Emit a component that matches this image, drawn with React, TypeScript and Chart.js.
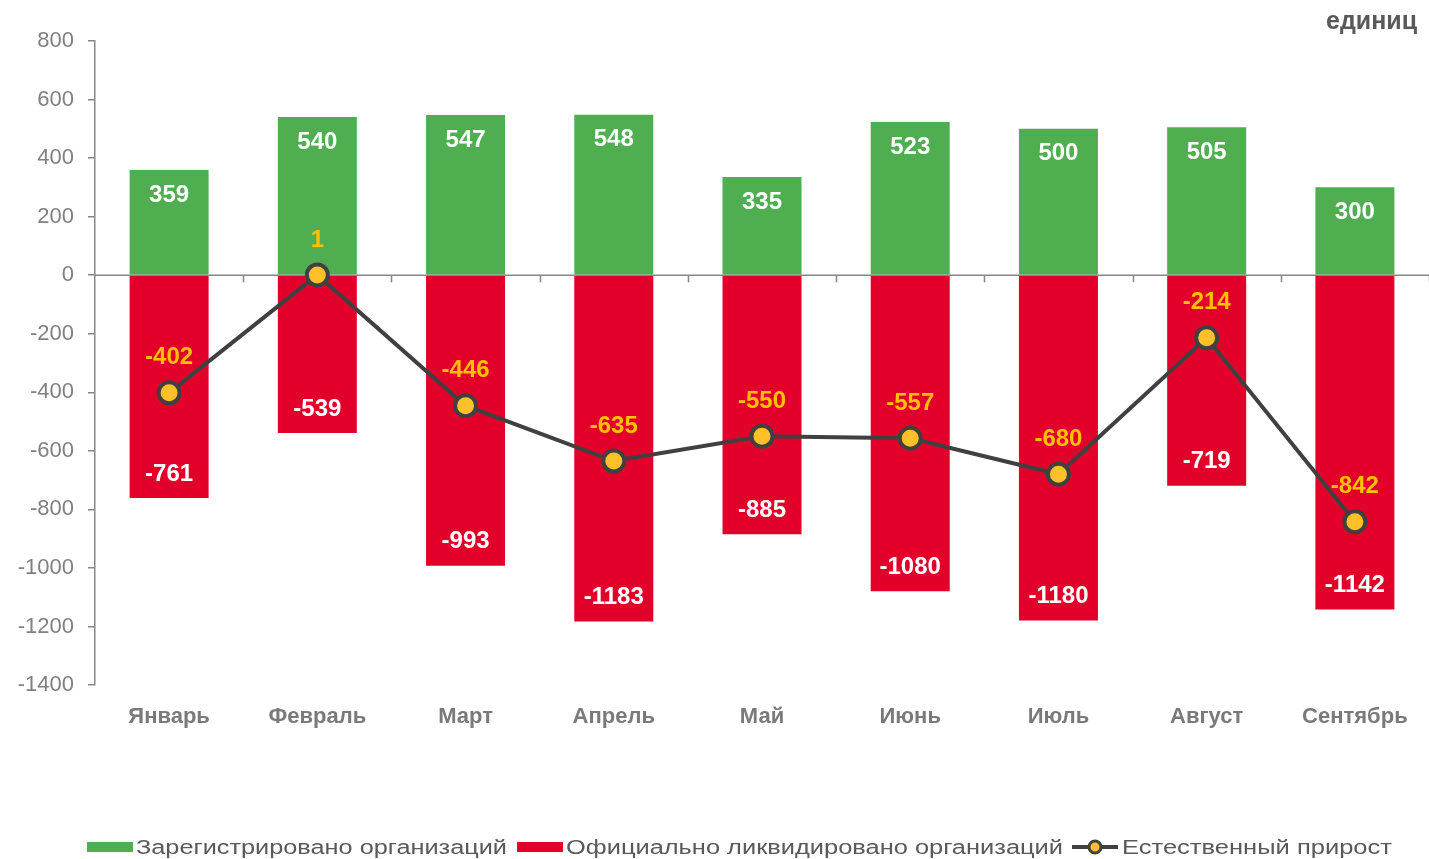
import React, { useEffect, useRef } from "react";
import { Chart, registerables } from "chart.js";

Chart.register(...registerables);

// ---- Data ----
const months = ["Январь", "Февраль", "Март", "Апрель", "Май", "Июнь", "Июль", "Август", "Сентябрь"];
const registered = [359, 540, 547, 548, 335, 523, 500, 505, 300];
const liquidated = [-761, -539, -993, -1183, -885, -1080, -1180, -719, -1142];
const naturalGrowth = [-402, 1, -446, -635, -550, -557, -680, -214, -842];
const seriesNames = ["Зарегистрировано организаций", "Официально ликвидировано организаций", "Естественный прирост"];
const unitLabel = "единиц";
const yMin = -1400;
const yMax = 800;
const yStep = 200;

// ---- Styles ----
const GREEN = "#4FAE50";
const RED = "#E2002A";
const LINE = "#404040";
const GOLD = "#FFC02A";
const ORANGE_TXT = "#FFC000";
const AXIS = "#868686";
const TICK_TXT = "#808080";
const CAT_TXT = "#7A7A7A";
const LEGEND_TXT = "#595959";
const FONT = '"Liberation Sans", Arial, sans-serif';

const overlayPlugin = {
  id: "overlay",
  beforeDatasetsDraw(chart: any) {
    const { ctx, chartArea, scales } = chart;
    const y0 = scales.y.getPixelForValue(0);
    ctx.save();
    ctx.strokeStyle = AXIS;
    ctx.lineWidth = 1.5;
    ctx.beginPath();
    ctx.moveTo(chartArea.left, y0);
    ctx.lineTo(chartArea.right, y0);
    const n = months.length;
    const step = (chartArea.right - chartArea.left) / n;
    for (let i = 1; i <= n; i++) {
      const px = Math.round(chartArea.left + step * i) + 0.5;
      ctx.moveTo(px, y0);
      ctx.lineTo(px, y0 + 7);
    }
    ctx.stroke();
    ctx.restore();
  },
  afterDatasetsDraw(chart: any) {
    const { ctx } = chart;
    ctx.save();
    ctx.textAlign = "center";
    ctx.textBaseline = "middle";
    ctx.font = `bold 24px ${FONT}`;
    ctx.fillStyle = "#FFFFFF";
    const m0 = chart.getDatasetMeta(0);
    m0.data.forEach((el: any, i: number) => {
      ctx.fillText(String(registered[i]), el.x, el.y + 25);
    });
    const m1 = chart.getDatasetMeta(1);
    m1.data.forEach((el: any, i: number) => {
      ctx.fillText(String(liquidated[i]), el.x, el.y - 24);
    });
    ctx.fillStyle = ORANGE_TXT;
    const m2 = chart.getDatasetMeta(2);
    m2.data.forEach((el: any, i: number) => {
      ctx.fillText(String(naturalGrowth[i]), el.x, el.y - 35);
    });
    ctx.restore();
  },
  afterDraw(chart: any) {
    const { ctx } = chart;
    ctx.save();
    // unit title
    ctx.font = `bold 25px ${FONT}`;
    ctx.fillStyle = LEGEND_TXT;
    ctx.textAlign = "right";
    ctx.textBaseline = "alphabetic";
    ctx.fillText(unitLabel, 1417, 29);

    // legend
    const ly = 847;
    const items = [
      { x0: 87, textX: 136, textW: 371, kind: "rect", color: GREEN },
      { x0: 517, textX: 566, textW: 497, kind: "rect", color: RED },
      { x0: 1072, textX: 1122, textW: 270, kind: "line", color: LINE },
    ];
    items.forEach((it, i) => {
      if (it.kind === "rect") {
        ctx.fillStyle = it.color;
        ctx.fillRect(it.x0, ly - 5, 46, 10);
      } else {
        ctx.strokeStyle = LINE;
        ctx.lineWidth = 4;
        ctx.beginPath();
        ctx.moveTo(it.x0, ly);
        ctx.lineTo(it.x0 + 46, ly);
        ctx.stroke();
        ctx.beginPath();
        ctx.arc(it.x0 + 23, ly, 6, 0, Math.PI * 2);
        ctx.fillStyle = GOLD;
        ctx.fill();
        ctx.lineWidth = 3;
        ctx.stroke();
      }
      ctx.font = `20px ${FONT}`;
      ctx.fillStyle = LEGEND_TXT;
      ctx.textAlign = "left";
      ctx.textBaseline = "middle";
      const w = ctx.measureText(seriesNames[i]).width;
      const sx = it.textW / w;
      ctx.save();
      ctx.translate(it.textX, ly);
      ctx.scale(sx, 1);
      ctx.fillText(seriesNames[i], 0, 1);
      ctx.restore();
    });
    ctx.restore();
  },
};

export default function App() {
  const canvasRef = useRef<HTMLCanvasElement | null>(null);

  useEffect(() => {
    document.body.style.margin = "0";
    const canvas = canvasRef.current;
    if (!canvas) return;
    const chart = new Chart(canvas, {
      type: "bar",
      data: {
        labels: months,
        datasets: [
          {
            type: "bar",
            label: seriesNames[0],
            data: registered,
            backgroundColor: GREEN,
            categoryPercentage: 1,
            barPercentage: 0.533,
            order: 2,
          },
          {
            type: "bar",
            label: seriesNames[1],
            data: liquidated,
            backgroundColor: RED,
            categoryPercentage: 1,
            barPercentage: 0.533,
            order: 1,
          },
          {
            type: "line",
            label: seriesNames[2],
            data: naturalGrowth,
            borderColor: LINE,
            borderWidth: 4,
            pointRadius: 10.5,
            pointBorderWidth: 4,
            pointBackgroundColor: GOLD,
            pointBorderColor: LINE,
            tension: 0,
            clip: false,
            order: 0,
          } as any,
        ],
      },
      options: {
        responsive: false,
        animation: false,
        devicePixelRatio: 1,
        layout: { autoPadding: false, padding: { top: 41, left: 0, right: -2, bottom: 0 } },
        plugins: {
          legend: { display: false },
          tooltip: { enabled: false },
          title: { display: false },
        },
        scales: {
          x: {
            stacked: true,
            grid: { display: false, drawTicks: false },
            border: { display: false },
            ticks: {
              color: CAT_TXT,
              font: { family: FONT, size: 22, weight: "bold" },
              padding: 19,
              maxRotation: 0,
              autoSkip: false,
            },
            afterFit: (scale: any) => {
              scale.height = 174;
              scale.paddingLeft = 0;
              scale.paddingRight = 0;
            },
          },
          y: {
            stacked: false,
            min: yMin,
            max: yMax,
            grid: {
              drawOnChartArea: false,
              drawTicks: true,
              tickLength: 7,
              color: AXIS,
              lineWidth: 1.5,
            },
            border: { display: true, color: AXIS, width: 1.5 },
            ticks: {
              stepSize: yStep,
              color: TICK_TXT,
              font: { family: FONT, size: 22 },
              padding: 14,
              callback: (v: any) => String(v),
            },
            afterFit: (scale: any) => {
              scale.width = 95;
              scale.paddingTop = 0;
              scale.paddingBottom = 0;
            },
          },
        },
      },
      plugins: [overlayPlugin],
    });
    return () => chart.destroy();
  }, []);

  return (
    <div style={{ width: 1429, height: 859, overflow: "hidden", background: "#fff" }}>
      <canvas ref={canvasRef} width={1429} height={859} style={{ display: "block" }} />
    </div>
  );
}
